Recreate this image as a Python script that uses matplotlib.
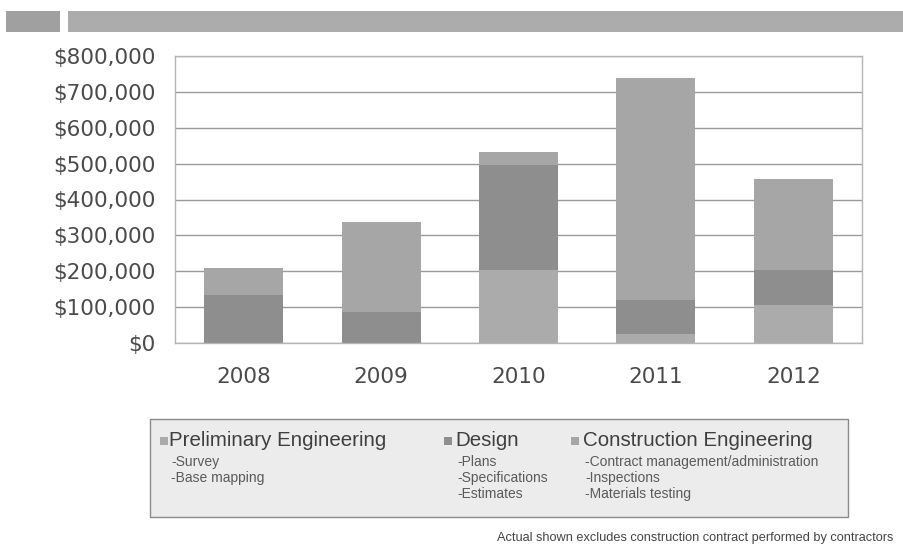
"""Engineering cost by year, stacked by phase, with a legend panel describing each phase."""

from __future__ import annotations

import matplotlib

matplotlib.use("Agg")
import matplotlib.pyplot as plt
from matplotlib.patches import Rectangle
from matplotlib.ticker import FuncFormatter, MultipleLocator
import numpy as np


YEARS = ["2008", "2009", "2010", "2011", "2012"]
PRELIMINARY = [0, 0, 203000, 25000, 106000]
DESIGN = [135000, 86000, 293000, 95000, 97000]
CONSTRUCTION = [75000, 251000, 36000, 618000, 255000]

PHASE_NAMES = ["Preliminary Engineering", "Design", "Construction Engineering"]
PHASE_ITEMS = [
    ["-Survey", "-Base mapping"],
    ["-Plans", "-Specifications", "-Estimates"],
    ["-Contract management/administration", "-Inspections", "-Materials testing"],
]
FOOTNOTE = "Actual shown excludes construction contract performed by contractors"

COLORS = ["#ababab", "#8e8e8e", "#a6a6a6"]
FONT = ["Liberation Sans", "DejaVu Sans"]
TICK_FONT = ["DejaVu Sans"]

W, H = 904, 546


def fig_box(x0, y0, x1, y1):
    """Convert a pixel box (top-left origin) into figure fractions."""
    return [x0 / W, 1 - y1 / H, (x1 - x0) / W, (y1 - y0) / H]


def fx(x):
    return x / W


def fy(y):
    return 1 - y / H


def draw_header(fig):
    for x0, x1, color in [(6, 60, "#a0a0a0"), (68, 904, "#acacac")]:
        fig.patches.append(Rectangle((fx(x0), fy(32)), fx(x1) - fx(x0), fy(11) - fy(32),
                                     transform=fig.transFigure, facecolor=color,
                                     edgecolor="none", zorder=0))


def draw_bars(fig):
    ax = fig.add_axes(fig_box(175, 56, 862, 343))
    x = np.arange(len(YEARS))
    bottom = np.zeros(len(YEARS))
    for values, color in zip([PRELIMINARY, DESIGN, CONSTRUCTION], COLORS):
        ax.bar(x, values, width=0.575, bottom=bottom, color=color, edgecolor="none", zorder=2)
        bottom += np.array(values)

    ax.set_xlim(-0.5, len(YEARS) - 0.5)
    ax.set_ylim(0, 800000)
    ax.yaxis.set_major_locator(MultipleLocator(100000))
    ax.yaxis.set_major_formatter(FuncFormatter(lambda v, _: f"${v:,.0f}"))
    ax.grid(axis="y", color="#9a9a9a", linewidth=1.0, zorder=1)
    ax.set_axisbelow(True)

    ax.set_xticks(x)
    ax.set_xticklabels(YEARS)
    ax.tick_params(axis="both", length=0, labelsize=15.5, labelcolor="#4a4a4a")
    ax.tick_params(axis="y", pad=14)
    ax.tick_params(axis="x", pad=17)
    for label in ax.get_xticklabels() + ax.get_yticklabels():
        label.set_family(TICK_FONT)

    for spine in ax.spines.values():
        spine.set_color("#b5b5b5")
        spine.set_linewidth(1.0)
    return ax


def draw_legend(fig):
    fig.patches.append(Rectangle((fx(150), fy(517)), fx(848) - fx(150), fy(419) - fy(517),
                                 transform=fig.transFigure, facecolor="#ececec",
                                 edgecolor="#8a8a8a", linewidth=1.0, zorder=0))
    columns = [(160, 169), (444, 455), (571, 583)]
    for (sq_x, text_x), name, items, color in zip(columns, PHASE_NAMES, PHASE_ITEMS, COLORS):
        fig.patches.append(Rectangle((fx(sq_x), fy(445)), fx(sq_x + 8) - fx(sq_x), fy(437) - fy(445),
                                     transform=fig.transFigure, facecolor=color,
                                     edgecolor="none", zorder=1))
        fig.text(fx(text_x), fy(440), name, fontsize=14.8, color="#3f3f3f",
                 family=FONT, va="center", ha="left")
        for i, item in enumerate(items):
            fig.text(fx(text_x + 2), fy(462 + 16 * i), item, fontsize=10, color="#5a5a5a",
                     family=FONT, va="center", ha="left")


def main():
    fig = plt.figure(figsize=(W / 100, H / 100), dpi=100)
    fig.patch.set_facecolor("white")
    draw_header(fig)
    draw_bars(fig)
    draw_legend(fig)
    fig.text(fx(893), fy(538), FOOTNOTE, fontsize=9.2, color="#444444",
             family=FONT, va="center", ha="right")
    fig.savefig("out.png", dpi=100)
    plt.close(fig)


if __name__ == "__main__":
    main()
